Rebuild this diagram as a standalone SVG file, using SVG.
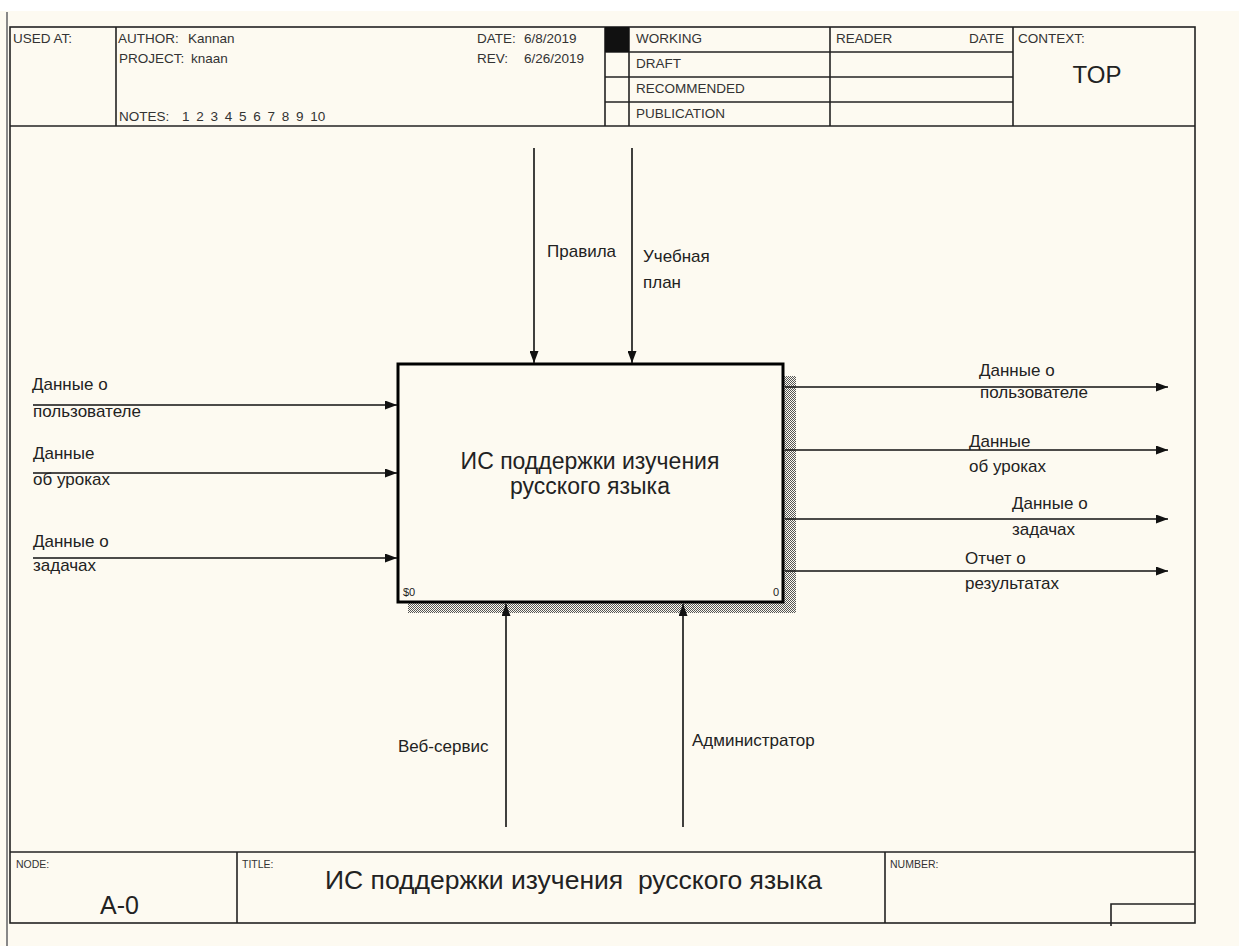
<svg xmlns="http://www.w3.org/2000/svg" width="1239" height="946" viewBox="0 0 1239 946">
<defs>
<style>
text{font-family:"Liberation Sans",Arial,sans-serif;fill:#222}
.h{font-size:13.5px;fill:#333}
.s{font-size:10.5px;fill:#333}
.lbl{font-size:17px}
.fr{fill:none;stroke:#222;stroke-width:1.6}
.cn{fill:none;stroke:#111;stroke-width:1.6}
</style>
<pattern id="hatch" width="2" height="2" patternUnits="userSpaceOnUse">
<rect x="0" y="0" width="1" height="1" fill="#555"/>
<rect x="1" y="1" width="1" height="1" fill="#555"/>
</pattern>
<marker id="ah" viewBox="0 0 12 9" refX="12" refY="4.5" markerWidth="12" markerHeight="9" markerUnits="userSpaceOnUse" orient="auto">
<path d="M0,0 L12,4.5 L0,9 z" fill="#111"/>
</marker>
</defs>
<rect x="0" y="0" width="1239" height="946" fill="#FDFAF1"/>
<rect x="0" y="0" width="1239" height="11" fill="#FFFFFF"/>
<line x1="7" y1="12" x2="7" y2="946" stroke="#888" stroke-width="2"/>

<g id="frame">
<rect class="fr" x="10" y="27" width="1185" height="896"/>
<line class="fr" x1="10" y1="126" x2="1195" y2="126"/>
<line class="fr" x1="116" y1="27" x2="116" y2="126"/>
<line class="fr" x1="605" y1="27" x2="605" y2="126"/>
<line class="fr" x1="629" y1="27" x2="629" y2="126"/>
<line class="fr" x1="830" y1="27" x2="830" y2="126"/>
<line class="fr" x1="1013" y1="27" x2="1013" y2="126"/>
<line class="fr" x1="605" y1="52" x2="1013" y2="52"/>
<line class="fr" x1="605" y1="77" x2="1013" y2="77"/>
<line class="fr" x1="605" y1="102" x2="1013" y2="102"/>
<rect x="605" y="27" width="24" height="25" fill="#111"/>
<text class="h" x="13" y="43">USED AT:</text>
<text class="h" x="118" y="43">AUTHOR:</text>
<text class="h" x="188" y="43">Kannan</text>
<text class="h" x="119" y="63">PROJECT:</text>
<text class="h" x="191" y="63">knaan</text>
<text class="h" x="119" y="121">NOTES:</text>
<text class="h" x="182" y="121" word-spacing="3">1 2 3 4 5 6 7 8 9 10</text>
<text class="h" x="477" y="43">DATE:</text>
<text class="h" x="524" y="43">6/8/2019</text>
<text class="h" x="477" y="63">REV:</text>
<text class="h" x="524" y="63">6/26/2019</text>
<text class="h" x="636" y="43">WORKING</text>
<text class="h" x="636" y="68">DRAFT</text>
<text class="h" x="636" y="93">RECOMMENDED</text>
<text class="h" x="636" y="118">PUBLICATION</text>
<text class="h" x="836" y="43">READER</text>
<text class="h" x="1004" y="43" text-anchor="end">DATE</text>
<text class="h" x="1018" y="43">CONTEXT:</text>
<text x="1097" y="83" font-size="24" text-anchor="middle" fill="#333">TOP</text>
<line class="fr" x1="10" y1="852" x2="1195" y2="852"/>
<line class="fr" x1="237" y1="852" x2="237" y2="923"/>
<line class="fr" x1="885" y1="852" x2="885" y2="923"/>
<polyline class="fr" points="1195,904 1111,904 1111,926"/>
<text class="s" x="16" y="868">NODE:</text>
<text x="100" y="914" font-size="25">A-0</text>
<text class="s" x="242" y="868">TITLE:</text>
<text x="325" y="889" font-size="26.5" xml:space="preserve">ИС поддержки изучения  русского языка</text>
<text class="s" x="890" y="868">NUMBER:</text>
</g>

<g id="node-A0">
<rect x="784" y="376" width="12" height="237" fill="url(#hatch)"/>
<rect x="408" y="603" width="388" height="10" fill="url(#hatch)"/>
<rect x="398" y="364" width="385" height="238" fill="#FDFAF1" stroke="#000" stroke-width="3"/>
<text x="590" y="469" font-size="23" text-anchor="middle">ИС поддержки изучения</text>
<text x="590" y="494" font-size="23" text-anchor="middle">русского языка</text>
<text x="403" y="596" font-size="11">$0</text>
<text x="773" y="596" font-size="11">0</text>
</g>

<g id="connectors">
<line class="cn" x1="33" y1="405" x2="397" y2="405" marker-end="url(#ah)"/>
<line class="cn" x1="33" y1="473" x2="397" y2="473" marker-end="url(#ah)"/>
<line class="cn" x1="33" y1="558" x2="397" y2="558" marker-end="url(#ah)"/>
<line class="cn" x1="534" y1="148" x2="534" y2="363" marker-end="url(#ah)"/>
<line class="cn" x1="632" y1="148" x2="632" y2="363" marker-end="url(#ah)"/>
<line class="cn" x1="506" y1="827" x2="506" y2="604" marker-end="url(#ah)"/>
<line class="cn" x1="683" y1="827" x2="683" y2="604" marker-end="url(#ah)"/>
<line class="cn" x1="785" y1="387" x2="1168" y2="387" marker-end="url(#ah)"/>
<line class="cn" x1="785" y1="450" x2="1168" y2="450" marker-end="url(#ah)"/>
<line class="cn" x1="785" y1="519" x2="1168" y2="519" marker-end="url(#ah)"/>
<line class="cn" x1="785" y1="571" x2="1168" y2="571" marker-end="url(#ah)"/>
</g>

<g id="labels">
<text class="lbl" x="32" y="390">Данные о</text>
<text class="lbl" x="33" y="417">пользователе</text>
<text class="lbl" x="33" y="459">Данные</text>
<text class="lbl" x="33" y="485">об уроках</text>
<text class="lbl" x="33" y="547">Данные о</text>
<text class="lbl" x="33" y="571">задачах</text>
<text class="lbl" x="547" y="257">Правила</text>
<text class="lbl" x="643" y="262">Учебная</text>
<text class="lbl" x="643" y="288">план</text>
<text class="lbl" x="398" y="752">Веб-сервис</text>
<text class="lbl" x="692" y="746">Администратор</text>
<text class="lbl" x="979" y="376">Данные о</text>
<text class="lbl" x="980" y="398">пользователе</text>
<text class="lbl" x="969" y="447">Данные</text>
<text class="lbl" x="969" y="472">об уроках</text>
<text class="lbl" x="1012" y="509">Данные о</text>
<text class="lbl" x="1012" y="535">задачах</text>
<text class="lbl" x="965" y="564">Отчет о</text>
<text class="lbl" x="965" y="589">результатах</text>
</g>
</svg>
